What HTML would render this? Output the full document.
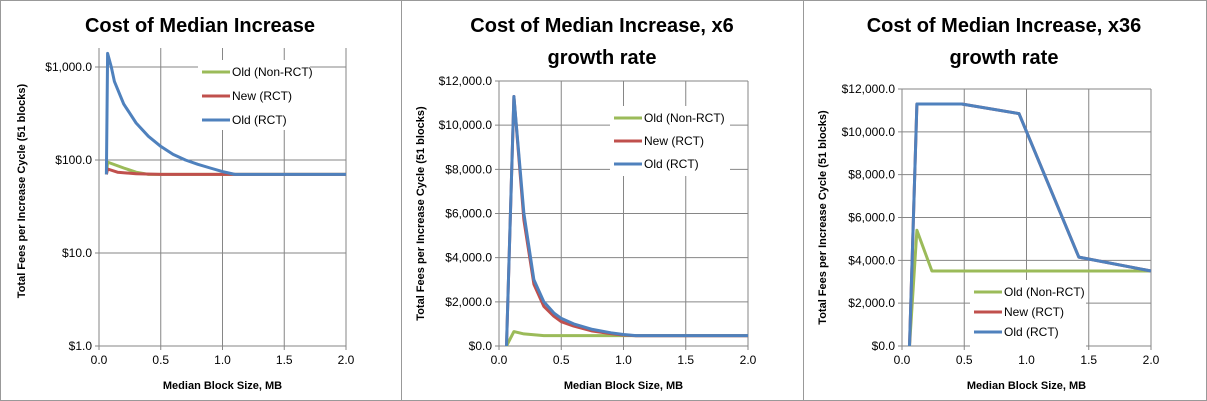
<!DOCTYPE html>
<html><head><meta charset="utf-8"><style>
body{margin:0;background:#fff;}
svg{display:block;font-family:"Liberation Sans",sans-serif;}
</style></head><body>
<svg id="c" width="1207" height="401" xmlns="http://www.w3.org/2000/svg"></svg>
<script>
const xTicks=[0,0.5,1,1.5,2];
const xTickLabels=['0.0','0.5','1.0','1.5','2.0'];
const seriesNames=['Old (Non-RCT)','New (RCT)','Old (RCT)'];
const seriesColors=['#9bbb59','#c0504d','#4f81bd'];
// Chart 1 (log)
const c1Ticks=[1,10,100,1000];
const c1TickLabels=['$1.0','$10.0','$100.0','$1,000.0'];
const c1GreenX=[0.06,0.07,0.2,0.3,0.4,2.0];
const c1GreenY=[70,95,82,74,70,70];
const c1RedX=[0.06,0.07,0.15,0.3,0.5,2.0];
const c1RedY=[70,80,74,71,70,70];
const c1BlueX=[0.06,0.07,0.1,0.125,0.2,0.3,0.4,0.5,0.6,0.7,0.8,0.9,1.0,1.1,2.0];
const c1BlueY=[70,1400,1000,700,400,250,180,140,115,100,90,82,75,70,70];
// Chart 2
const c2Ticks=[0,2000,4000,6000,8000,10000,12000];
const c2TickLabels=['$0.0','$2,000.0','$4,000.0','$6,000.0','$8,000.0','$10,000.0','$12,000.0'];
const c2GreenX=[0.06,0.12,0.2,0.36,2.0];
const c2GreenY=[0,650,550,470,470];
const c2RedX=[0.06,0.12,0.2,0.28,0.36,0.44,0.5,0.6,0.75,0.9,1.0,1.1,2.0];
const c2RedY=[0,11300,5700,2800,1800,1350,1100,900,680,560,500,460,460];
const c2BlueX=[0.06,0.12,0.2,0.28,0.36,0.44,0.5,0.6,0.75,0.9,1.0,1.1,2.0];
const c2BlueY=[0,11300,6000,3000,2000,1500,1250,1000,750,600,520,470,470];
// Chart 3
const c3GreenX=[0.06,0.12,0.24,2.0];
const c3GreenY=[0,5400,3500,3500];
const c3RedX=[0.06,0.12,0.48,0.94,1.42,2.0];
const c3RedY=[0,11300,11300,10850,4150,3500];
const c3BlueX=[0.06,0.12,0.48,0.94,1.42,2.0];
const c3BlueY=[0,11300,11300,10850,4150,3500];

const NS='http://www.w3.org/2000/svg';
const svg=document.getElementById('c');
function mk(tag,attrs,parent){const e=document.createElementNS(NS,tag);for(const k in attrs)e.setAttribute(k,attrs[k]);(parent||svg).appendChild(e);return e;}

// frame
let fr=mk('rect',{x:0.5,y:0.5,width:1206,height:400,fill:'none',stroke:'#999'});


[401.5,803.5].forEach(function(x){let l=mk('line',{x1:x,y1:0,x2:x,y2:401,stroke:'#999'});

});

function chart(o){
  const g=mk('g',{});
  
  
  const X=v=>o.x0+(o.x1-o.x0)*v/2;
  const Y=o.Y;
  // grid
  xTicks.forEach(function(t,i){
    let l=mk('line',{x1:X(t),y1:o.top,x2:X(t),y2:o.bot,stroke:'#868686','stroke-width':1},g);
    
    
    let tk=mk('line',{x1:X(t),y1:o.bot,x2:X(t),y2:o.bot+4,stroke:'#868686'},g);
    
    
    let tx=mk('text',{x:X(t),y:o.bot+18,'text-anchor':'middle','font-size':12,fill:'#000'},g);
    tx.textContent=xTickLabels[i];
    
    
  });
  o.yTicks.forEach(function(t,i){
    let l=mk('line',{x1:o.x0-4,y1:Y(t),x2:o.x1,y2:Y(t),stroke:'#868686'},g);
    
    
    let tx=mk('text',{x:o.x0-7,y:Y(t)+4,'text-anchor':'end','font-size':12,fill:'#000'},g);
    tx.textContent=o.yLabels[i];
    
    
  });
  let ax=mk('line',{x1:o.x0,y1:o.top,x2:o.x0,y2:o.bot,stroke:'#868686'},g);
  
  
  // legend bg
  let lb=mk('rect',{x:o.lx-4,y:o.ly-12,width:o.lw,height:70,fill:'#fff'},g);
  
  
  // series
  o.series.forEach(function(s,i){
    const d=s.x.map((v,j)=>(j?'L':'M')+X(v).toFixed(1)+','+Y(s.y[j]).toFixed(1)).join('');
    let p=mk('path',{d:d,fill:'none',stroke:seriesColors[i],'stroke-width':3,'stroke-linejoin':'round'},g);
    
    
  });
  // legend
  seriesNames.forEach(function(n,i){
    const yy=o.ly+i*o.lstep;
    let l=mk('line',{x1:o.lx,y1:yy,x2:o.lx+28,y2:yy,stroke:seriesColors[i],'stroke-width':3},g);
    
    
    let t=mk('text',{x:o.lx+30,y:yy+4,'font-size':12,fill:'#000'},g);
    t.textContent=n;
    
    
  });
  // titles
  o.title.forEach(function(line,i){
    let t=mk('text',{x:o.tx,y:32+i*32,'text-anchor':'middle','font-size':20,'font-weight':'bold',fill:'#000'},g);
    t.textContent=line;
    
    
  });
  let xt=mk('text',{x:(o.x0+o.x1)/2,y:o.bot+43,'text-anchor':'middle','font-size':11,'font-weight':'bold',fill:'#000'},g);
  xt.textContent='Median Block Size, MB';
  
  
  const yc=(o.top+o.bot)/2+(o.ytOff||0);
  let yt=mk('text',{x:o.ytx,y:yc,'text-anchor':'middle','font-size':11,'font-weight':'bold',fill:'#000',transform:'rotate(-90 '+o.ytx+' '+yc+')'},g);
  yt.textContent='Total Fees per Increase Cycle  (51 blocks)';
  
  
}
const lin=(b,t)=>v=>346-(346-t)*v/12000;
chart({name:'chart-cost-median-increase',x0:99,x1:346,top:48,bot:346,
  Y:v=>346-93*Math.log10(v),yTicks:c1Ticks,yLabels:c1TickLabels,
  series:[{x:c1GreenX,y:c1GreenY},{x:c1RedX,y:c1RedY},{x:c1BlueX,y:c1BlueY}],
  lx:202,ly:72,lstep:24,lw:112,title:['Cost of Median Increase'],tx:200,ytx:25,ytOff:-6});
chart({name:'chart-x6-growth',x0:499,x1:748,top:81,bot:346,
  Y:lin(346,81),yTicks:c2Ticks,yLabels:c2TickLabels,
  series:[{x:c2GreenX,y:c2GreenY},{x:c2RedX,y:c2RedY},{x:c2BlueX,y:c2BlueY}],
  lx:614,ly:118,lstep:23,lw:120,title:['Cost of Median Increase, x6','growth rate'],tx:602,ytx:424,ytOff:0});
chart({name:'chart-x36-growth',x0:902,x1:1151,top:89,bot:346,
  Y:lin(346,89),yTicks:c2Ticks,yLabels:c2TickLabels,
  series:[{x:c3GreenX,y:c3GreenY},{x:c3RedX,y:c3RedY},{x:c3BlueX,y:c3BlueY}],
  lx:974,ly:292,lstep:20,lw:116,title:['Cost of Median Increase, x36','growth rate'],tx:1004,ytx:826,ytOff:0});
</script>
</body></html>
